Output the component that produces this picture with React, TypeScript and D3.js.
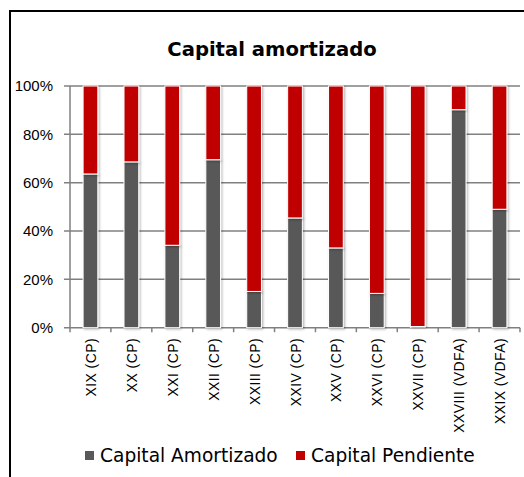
import React, { useRef, useEffect } from 'react';
import * as d3 from 'd3';

const categories = ['XIX (CP)', 'XX (CP)', 'XXI (CP)', 'XXII (CP)', 'XXIII (CP)', 'XXIV (CP)', 'XXV (CP)', 'XXVI (CP)', 'XXVII (CP)', 'XXVIII (VDFA)', 'XXIX (VDFA)'];
const amortizado = [63.6, 68.6, 34.1, 69.5, 15.0, 45.4, 33.0, 14.2, 0.5, 90.2, 49.0];
const pendiente = amortizado.map(v => 100 - v);
const yTicks = [0, 20, 40, 60, 80, 100];
const seriesNames = ['Capital Amortizado', 'Capital Pendiente'];
const colors = ['#595959', '#C00000'];

const App = () => {
    const ref = useRef<HTMLDivElement>(null);

    useEffect(() => {
        const width = 524;
        const height = 477;
        const marginLeft = 70;
        const marginRight = 4;
        const top = 86;
        const bottom = 327.7;

        const x = d3.scaleBand<string>()
            .domain(categories)
            .range([marginLeft, width - marginRight])
            .paddingInner(0.64)
            .paddingOuter(0.32);
        const y = d3.scaleLinear([0, 100], [bottom, top]);

        const svg = d3.create('svg')
            .attr('width', width)
            .attr('height', height)
            .attr('viewBox', [0, 0, width, height].join(' '))
            .style('position', 'absolute')
            .style('left', '0px')
            .style('top', '0px')
            .style('background', '#fff');

        const defs = svg.append('defs');
        const f = defs.append('filter').attr('id', 'sh').attr('x', '-50%').attr('y', '-10%').attr('width', '200%').attr('height', '120%');
        f.append('feDropShadow').attr('dx', 1.2).attr('dy', 1.2).attr('stdDeviation', 1.2).attr('flood-color', '#000').attr('flood-opacity', 0.3);

        // outer border
        svg.append('rect')
            .attr('x', 10).attr('y', 11)
            .attr('width', 530).attr('height', 480)
            .attr('fill', 'none').attr('stroke', '#000').attr('stroke-width', 2);

        svg.append('text')
            .attr('x', 272).attr('y', 56)
            .attr('text-anchor', 'middle')
            .attr('font-family', 'DejaVu Sans')
            .attr('font-weight', 'bold')
            .attr('font-size', 19.6)
            .attr('fill', '#000')
            .text('Capital amortizado');

        // gridlines + y labels
        const yAxis = svg.append('g');
        yTicks.forEach(t => {
            yAxis.append('line')
                .attr('x1', 64).attr('x2', width - marginRight)
                .attr('y1', y(t)).attr('y2', y(t))
                .attr('stroke', '#808080').attr('stroke-width', 1.5);
            yAxis.append('text')
                .attr('x', 53).attr('y', y(t))
                .attr('dy', '0.35em')
                .attr('text-anchor', 'end')
                .attr('font-family', 'Liberation Sans')
                .attr('font-size', 15)
                .attr('fill', '#000')
                .text(`${t}%`);
        });
        yAxis.append('line')
            .attr('x1', marginLeft).attr('x2', marginLeft)
            .attr('y1', top).attr('y2', bottom)
            .attr('stroke', '#808080').attr('stroke-width', 1.5);

        // x ticks at band boundaries
        const step = x.step();
        const x0 = x(categories[0])! - x.paddingOuter() * step;
        d3.range(categories.length + 1).forEach(i => {
            svg.append('line')
                .attr('x1', x0 + i * step).attr('x2', x0 + i * step)
                .attr('y1', bottom).attr('y2', bottom + 4.5)
                .attr('stroke', '#808080').attr('stroke-width', 1.5);
        });

        const stacked = d3.stack<number>()
            .keys(['a', 'p'])
            .value((i, key) => key === 'a' ? amortizado[i] : pendiente[i])(d3.range(categories.length));

        stacked.forEach((layer, li) => {
            svg.append('g')
                .selectAll('rect')
                .data(layer)
                .join('rect')
                .attr('x', (_, i) => x(categories[i])!)
                .attr('width', x.bandwidth())
                .attr('y', d => y(d[1]))
                .attr('height', d => Math.max(0, y(d[0]) - y(d[1])))
                .attr('fill', colors[li])
                .attr('stroke', '#fff')
                .attr('stroke-width', 1)
                .attr('filter', 'url(#sh)');
        });

        // category labels
        categories.forEach(c => {
            svg.append('text')
                .attr('transform', `translate(${x(c)! + x.bandwidth() / 2 + 5.5},338) rotate(-90)`)
                .attr('text-anchor', 'end')
                .attr('font-family', 'Liberation Sans')
                .attr('font-size', 14)
                .attr('letter-spacing', 0.4)
                .attr('fill', '#000')
                .text(c);
        });

        // legend
        const legendX = [85, 296];
        seriesNames.forEach((s, i) => {
            svg.append('rect')
                .attr('x', legendX[i]).attr('y', 451)
                .attr('width', 9).attr('height', 9)
                .attr('fill', colors[i]);
            svg.append('text')
                .attr('x', legendX[i] + 15).attr('y', 461.5)
                .attr('font-family', 'DejaVu Sans')
                .attr('font-size', 18.6)
                .attr('fill', '#000')
                .text(s);
        });

        ref.current!.appendChild(svg.node()!);
        return () => { if (ref.current) ref.current.innerHTML = ''; };
    }, []);

    return <div ref={ref}></div>;
};

export default App;
